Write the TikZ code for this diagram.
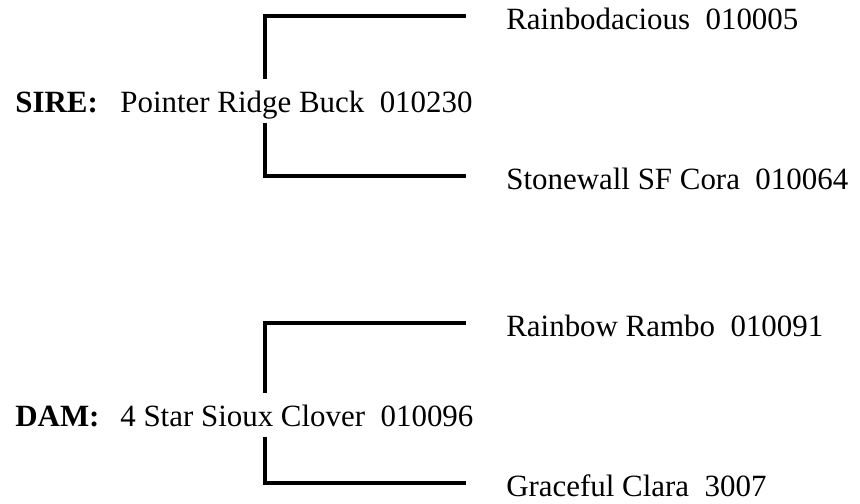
\documentclass[tikz,border=0pt]{standalone}
\usepackage{fontspec}
\setmainfont{Liberation Serif}
\usetikzlibrary{positioning}
\newcommand{\pedfont}{\fontsize{17.6pt}{21pt}\selectfont}

\begin{document}
\begin{tikzpicture}[x=0.02cm, y=-0.02cm, font=\pedfont]
    \tikzstyle{tag} = [font=\pedfont\bfseries, anchor=base west, inner sep=0pt]
    \tikzstyle{parent} = [anchor=base west, inner sep=0pt,
    text height=0.66cm, text depth=0.21cm]
    \tikzstyle{child} = [anchor=west, inner sep=0pt,
    text height=0.54cm, text depth=0cm]
    \tikzstyle{line} = [draw, line width=2.3pt, shorten >=0.8cm]
    \useasboundingbox (0,0) rectangle (860,504);
    \coordinate (fork) at (265,0);
    % sire side
    \node [tag] (siretag) at (15,112) {SIRE:};
    \node [parent] (sire) at (120,112) {Pointer Ridge Buck~~010230};
    \node [child] (siresire) at (506,16) {Rainbodacious~~010005};
    \node [child] (siredam) at (506,176) {Stonewall SF Cora~~010064};
    % dam side
    \node [tag] (damtag) at (15,426) {DAM:};
    \node [parent] (dam) at (120,426) {4 Star Sioux Clover~~010096};
    \node [child] (damsire) at (506,323) {Rainbow Rambo~~010091};
    \node [child] (damdam) at (506,483) {Graceful Clara~~3007};
    \path [line] (sire.north -| fork) |- (siresire);
    \path [line] (sire.south -| fork) |- (siredam);
    \path [line] (dam.north -| fork) |- (damsire);
    \path [line] (dam.south -| fork) |- (damdam);
\end{tikzpicture}
\end{document}
